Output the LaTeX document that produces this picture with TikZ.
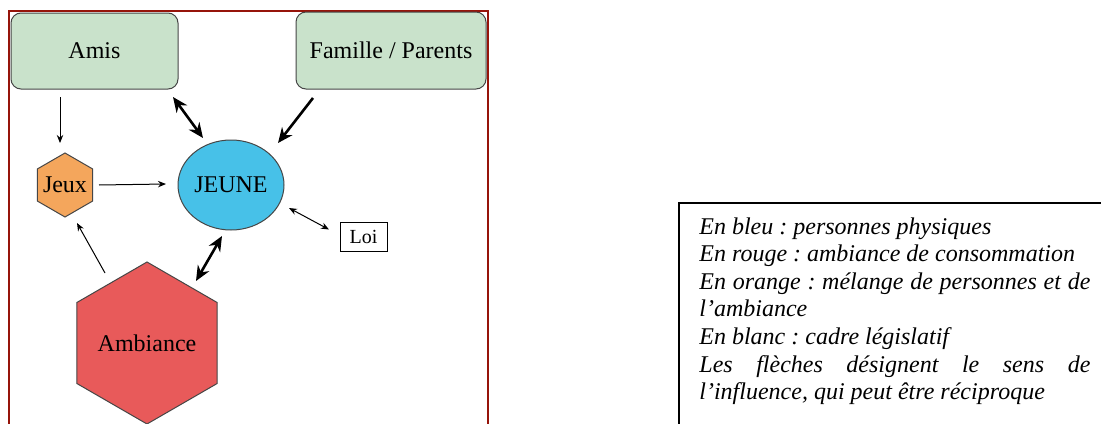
\documentclass[tikz,border=0pt]{standalone}
\usepackage{fontspec}
\setmainfont{Liberation Serif}
\usetikzlibrary{shapes.geometric,arrows.meta,calc}

\definecolor{framered}{RGB}{150,20,10}
\definecolor{boxgreen}{RGB}{201,226,203}
\definecolor{hexorange}{RGB}{244,166,92}
\definecolor{youngblue}{RGB}{71,193,232}
\definecolor{moodred}{RGB}{232,90,90}
\definecolor{edgegray}{RGB}{70,70,70}

\tikzset{
  txt/.style={font=\fontsize{12}{13.8}\selectfont},
  greenbox/.style={txt, draw=edgegray, line width=0.5pt, fill=boxgreen,
    rounded corners=5pt, inner sep=0pt},
  hexa/.style={txt, draw=edgegray, line width=0.5pt, regular polygon,
    regular polygon sides=6, shape border rotate=30, inner sep=0pt},
  thinarr/.style={draw=black, line width=0.5pt,
    -{Stealth[length=4pt,width=3.2pt]}},
  thinboth/.style={draw=black, line width=0.5pt,
    {Stealth[length=4pt,width=3.2pt]}-{Stealth[length=4pt,width=3.2pt]}},
  thickarr/.style={draw=black, line width=1.3pt,
    -{Stealth[length=7.5pt,width=6.5pt]}},
  thickboth/.style={draw=black, line width=1.3pt,
    {Stealth[length=7.5pt,width=6.5pt]}-{Stealth[length=7.5pt,width=6.5pt]}},
}

\begin{document}
\frenchspacing
\begin{tikzpicture}[x=0.5pt,y=-0.5pt]
  \useasboundingbox (0,0) rectangle (1101,423);
  \clip (0,0) rectangle (1101,423);
  \fill[white] (0,0) rectangle (1101,423);

  % outer frame of the influence diagram
  \draw[framered, line width=1pt] (9,11) rectangle (488,440);

  % actors
  \node[greenbox, minimum width=83.5pt, minimum height=38pt] (amis) at (94.5,51) {Amis};
  \node[greenbox, minimum width=95pt, minimum height=38.5pt] (famille) at (391,50.5) {Famille / Parents};
  \node[hexa, fill=hexorange, minimum size=32pt, inner sep=-2.5pt] (jeux) at (65,185) {Jeux};
  \node[txt, ellipse, draw=edgegray, line width=0.5pt, fill=youngblue,
        minimum width=53pt, minimum height=45pt, inner sep=0pt] (jeune) at (231,185) {JEUNE};
  \node[draw=black, line width=0.5pt, fill=white, font=\fontsize{10}{12}\selectfont,
        minimum width=23.5pt, minimum height=14.5pt, inner sep=0pt] (loi) at (363.5,236.5) {Loi};
  \node[hexa, fill=moodred, minimum size=81pt] (ambiance) at (147,343) {Ambiance};

  % influences
  \draw[thinarr]   ($(amis)+(-34.5,46)$)     -- ($(jeux)+(-5,-42)$);
  \draw[thickboth] ($(amis)+(78.5,46)$)      -- ($(jeune)+(-28,-47)$);
  \draw[thickarr]  ($(famille)+(-78,47.5)$)  -- ($(jeune)+(47,-42)$);
  \draw[thinarr]   ($(jeux)+(34,0)$)         -- ($(jeune)+(-65,-1)$);
  \draw[thinarr]   ($(ambiance)+(-42,-70)$)  -- ($(jeux)+(12,38)$);
  \draw[thinboth]  ($(jeune)+(58,23)$)       -- ($(loi)+(-34.5,-7)$);
  \draw[thickboth] ($(ambiance)+(49,-62)$)   -- ($(jeune)+(-9,51)$);

  % legend
  \draw[black, line width=0.9pt] (679,203) rectangle (1120,440);
  \node[anchor=north west, inner sep=0pt, text width=195.5pt, align=justify,
        font=\fontsize{12}{13.8}\selectfont\itshape] (legende) at (699,217)
  {En bleu : personnes physiques\\
   En rouge : ambiance de consommation\\
   En orange : mélange de personnes et de\linebreak l’ambiance\\
   En blanc : cadre législatif\\
   Les flèches désignent le sens de\linebreak l’influence, qui peut être réciproque};
\end{tikzpicture}
\end{document}
